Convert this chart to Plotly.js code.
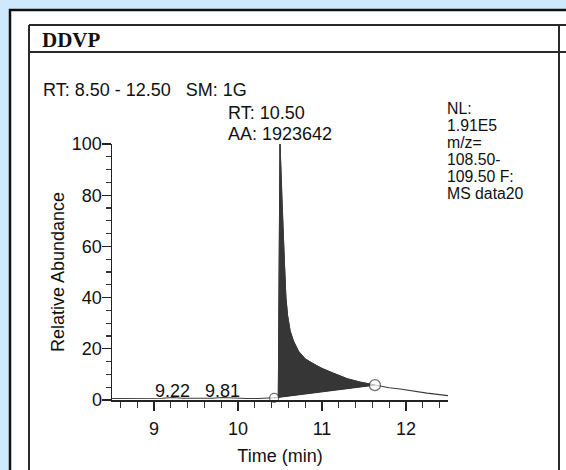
<!DOCTYPE html>
<html>
<head>
<meta charset="utf-8">
<script src="https://cdn.plot.ly/plotly-3.0.1.min.js"></script>
<style>
html,body{margin:0;padding:0;background:#cde9fb;}
#chart{width:566px;height:470px;}
</style>
</head>
<body>
<div id="chart"></div>
<script>
// ---- data ----
const timeMin = [8.50, 8.70, 8.90, 9.10, 9.22, 9.35, 9.55, 9.70, 9.81, 9.95, 10.10, 10.25, 10.40, 10.43, 10.48, 10.50, 10.52, 10.55, 10.57, 10.59, 10.62, 10.66, 10.72, 10.80, 10.90, 11.00, 11.13, 11.30, 11.45, 11.63, 11.80, 11.93, 12.10, 12.25, 12.50];
const abundance = [0.6, 0.6, 0.7, 0.7, 1.0, 0.7, 0.7, 0.7, 1.0, 0.7, 0.6, 0.6, 0.7, 0.8, 1.0, 100, 80, 55, 40, 33, 27, 23, 19, 16, 14, 12.3, 10.5, 8.3, 7.0, 5.8, 4.8, 4.3, 3.4, 2.7, 1.7];
const integStart = [10.43, 0.8];   // baseline start (time, abundance)
const integEnd = [11.63, 5.8];     // baseline end
const smallPeakTimes = [9.22, 9.81];
const xTickVals = [9, 10, 11, 12];
const yTickVals = [0, 20, 40, 60, 80, 100];
const headerTitle = "DDVP";
const rangeLine = "RT: 8.50 - 12.50\u00a0\u00a0 SM: 1G";
const peakInfo = ["RT: 10.50", "AA: 1923642"];
const sideInfo = ["NL:", "1.91E5", "m/z=", "108.50-", "109.50 F:", "MS data20"];

// ---- geometry (pixels) ----
const L = 112, R = 448, T = 144, B = 400, W = 566, H = 470;
const px = v => (v - L) / (R - L);
const py = v => (B - v) / (B - T);
const FONT = "Liberation Sans, Arial, Helvetica, sans-serif";
const INK = "#111";

// filled integrated area: curve between baseline start and end, closed along baseline
const fillX = [], fillY = [];
timeMin.forEach((t, i) => {
  if (t >= 10.48 && t <= integEnd[0]) { fillX.push(t); fillY.push(abundance[i]); }
});
fillX.push(integStart[0]); fillY.push(integStart[1]);

const traces = [
  {x: fillX, y: fillY, type: 'scatter', mode: 'lines', fill: 'toself',
   fillcolor: '#363636', line: {color: '#303030', width: 1}, hoverinfo: 'skip'},
  {x: timeMin, y: abundance, type: 'scatter', mode: 'lines',
   line: {color: '#3a3a3a', width: 1.1}},
  {x: [integStart[0], integEnd[0]], y: [integStart[1], integEnd[1]], type: 'scatter', mode: 'markers',
   marker: {symbol: 'circle', size: [9, 11], color: 'white', line: {color: '#333', width: 1.2}}, cliponaxis: false}
];

function ann(text, xp, yp, size, opts) {
  return Object.assign({xref: 'paper', yref: 'paper', x: px(xp), y: py(yp), text: text,
    showarrow: false, xanchor: 'left', yanchor: 'middle', borderpad: 0,
    font: {family: FONT, size: size, color: INK}}, opts || {});
}

const annotations = [
  ann('<b>' + headerTitle + '</b>', 41, 39.5, 21, {font: {family: 'Liberation Serif, Times New Roman, serif', size: 21, color: '#111'}}),
  ann(rangeLine, 42, 89.5, 18),
  ann(peakInfo[0], 227, 113, 18),
  ann(peakInfo[1], 227, 133.5, 18)
];
const sideY = [108.5, 125.5, 142.5, 159.5, 176.5, 193.5];
sideInfo.forEach((s, i) => annotations.push(ann(s, 446, sideY[i], 15.8)));
smallPeakTimes.forEach(t => annotations.push({
  xref: 'x', yref: 'y', x: t, y: 0, yshift: 9, text: t.toFixed(2), showarrow: false,
  xanchor: 'center', yanchor: 'middle', borderpad: 0, font: {family: FONT, size: 18, color: INK}
}));

const lineCol = '#2a2a2a';
const shapes = [
  {type: 'rect', xref: 'paper', yref: 'paper', x0: px(10), y0: py(10), x1: px(640), y1: py(540),
   fillcolor: 'white', line: {color: '#111', width: 2.5}, layer: 'below'},
  {type: 'line', xref: 'paper', yref: 'paper', x0: px(29), y0: py(25), x1: px(640), y1: py(25), line: {color: lineCol, width: 2}, layer: 'below'},
  {type: 'line', xref: 'paper', yref: 'paper', x0: px(29), y0: py(52), x1: px(640), y1: py(52), line: {color: lineCol, width: 2}, layer: 'below'},
  {type: 'line', xref: 'paper', yref: 'paper', x0: px(29), y0: py(25), x1: px(29), y1: py(540), line: {color: lineCol, width: 2}, layer: 'below'},
  {type: 'line', xref: 'paper', yref: 'paper', x0: px(559), y0: py(25), x1: px(559), y1: py(540), line: {color: lineCol, width: 2}, layer: 'below'}
];

const layout = {
  width: W, height: H,
  margin: {l: L, r: W - R, t: T, b: H - B, pad: 0},
  paper_bgcolor: '#cde9fb', plot_bgcolor: 'white',
  showlegend: false,
  font: {family: FONT, size: 18, color: INK},
  xaxis: {
    range: [8.5, 12.5], showgrid: false, zeroline: false,
    showline: true, linecolor: '#222', linewidth: 1.5,
    tickmode: 'array', tickvals: xTickVals, ticktext: xTickVals.map(String),
    ticks: 'outside', ticklen: 9, tickwidth: 1.3, tickcolor: '#222',
    ticklabelstandoff: 3,
    minor: {dtick: 0.2, tick0: 0, ticks: 'outside', ticklen: 6, tickwidth: 1.2, tickcolor: '#333', showgrid: false},
    tickfont: {family: FONT, size: 18, color: INK},
    title: {text: 'Time (min)', font: {family: FONT, size: 18, color: INK}, standoff: 11}
  },
  yaxis: {
    range: [0, 100], showgrid: false, zeroline: false,
    showline: true, linecolor: '#222', linewidth: 1.5,
    tickmode: 'array', tickvals: yTickVals, ticktext: yTickVals.map(String),
    ticks: 'outside', ticklen: 9, tickwidth: 1.3, tickcolor: '#222',
    ticklabelstandoff: -4,
    minor: {dtick: 5, tick0: 0, ticks: 'outside', ticklen: 5, tickwidth: 1.2, tickcolor: '#333', showgrid: false},
    tickfont: {family: FONT, size: 18, color: INK},
    title: {text: 'Relative Abundance', font: {family: FONT, size: 18, color: INK}, standoff: 2}
  },
  shapes: shapes,
  annotations: annotations
};

Plotly.newPlot('chart', traces, layout, {displayModeBar: false, staticPlot: true});
</script>
</body>
</html>
